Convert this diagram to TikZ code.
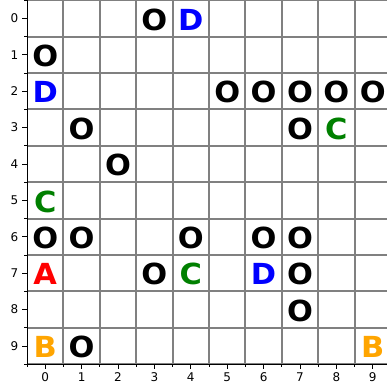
\documentclass[tikz,border=0pt]{standalone}
\usepackage{fontspec}
\setmainfont{DejaVu Sans}
\newfontfamily\cellfont[FakeStretch=1.05]{DejaVu Sans Bold}
\definecolor{mplblue}{HTML}{0000FF}
\definecolor{mplgreen}{HTML}{008000}
\definecolor{mplred}{HTML}{FF0000}
\definecolor{mplorange}{HTML}{FFA500}
\definecolor{gridgray}{HTML}{808080}
\tikzset{
  cell/.style={font=\cellfont\fontsize{29}{29}\selectfont, inner sep=0pt, anchor=base, yshift=-11.6pt},
  gridline/.style={draw=gridgray, line width=2pt},
  spine/.style={draw=black, line width=1pt},
  majortick/.style={draw=black, line width=0.9pt},
  minortick/.style={draw=black, line width=0.7pt},
  ticklabel/.style={font=\fontsize{12}{12}\selectfont, inner sep=0pt}
}
\begin{document}
\begin{tikzpicture}[x=1pt,y=-1pt]
\useasboundingbox (0,0) rectangle (387,389);
\fill[white] (0,0) rectangle (387,389);
\begin{scope}
\clip (0,0) rectangle (387,389);
\begin{scope}[shift={(45.2,18.4)}, x=36.4pt, y=-36.4pt]
  % grid
  \foreach \k in {0,...,10} {
    \draw[gridline] (-0.5,\k-0.5) -- (9.5,\k-0.5);
  }
  \foreach \k in {1,...,10} {
    \draw[gridline] (\k-0.5,-0.5) -- (\k-0.5,9.5);
  }
  % spines
  \coordinate (tl) at (-0.5,-0.5);
  \coordinate (bl) at (-0.5,9.5);
  \coordinate (br) at (9.5,9.5);
  \draw[spine] (tl) -- (bl) -- (br);
  % ticks and labels
  \foreach \k in {0,...,9} {
    \coordinate (ly\k) at (-0.5,\k);
    \coordinate (bx\k) at (\k,9.5);
    \draw[majortick] (ly\k) -- ++(-5pt,0);
    \draw[majortick] (bx\k) -- ++(0,-5pt);
    \node[ticklabel, anchor=east, xshift=-8.5pt] (yl\k) at (ly\k) {\k};
    \node[ticklabel, anchor=north, yshift=-8.5pt] (xl\k) at (bx\k) {\k};
  }
  \foreach \k in {0,...,10} {
    \coordinate (mly\k) at (-0.5,\k-0.5);
    \coordinate (mbx\k) at (\k-0.5,9.5);
    \draw[minortick] (mly\k) -- ++(-3pt,0);
    \draw[minortick] (mbx\k) -- ++(0,-3pt);
  }
  % letters
  \foreach \c/\r/\t/\col in {
    3/0/O/black, 4/0/D/mplblue,
    0/1/O/black,
    0/2/D/mplblue, 5/2/O/black, 6/2/O/black, 7/2/O/black, 8/2/O/black, 9/2/O/black,
    1/3/O/black, 7/3/O/black, 8/3/C/mplgreen,
    2/4/O/black,
    0/5/C/mplgreen,
    0/6/O/black, 1/6/O/black, 4/6/O/black, 6/6/O/black, 7/6/O/black,
    0/7/A/mplred, 3/7/O/black, 4/7/C/mplgreen, 6/7/D/mplblue, 7/7/O/black,
    7/8/O/black,
    0/9/B/mplorange, 1/9/O/black, 9/9/B/mplorange} {
    \node[cell, text=\col] (n\c-\r) at (\c,\r) {\t};
  }
\end{scope}
\end{scope}
\end{tikzpicture}
\end{document}
